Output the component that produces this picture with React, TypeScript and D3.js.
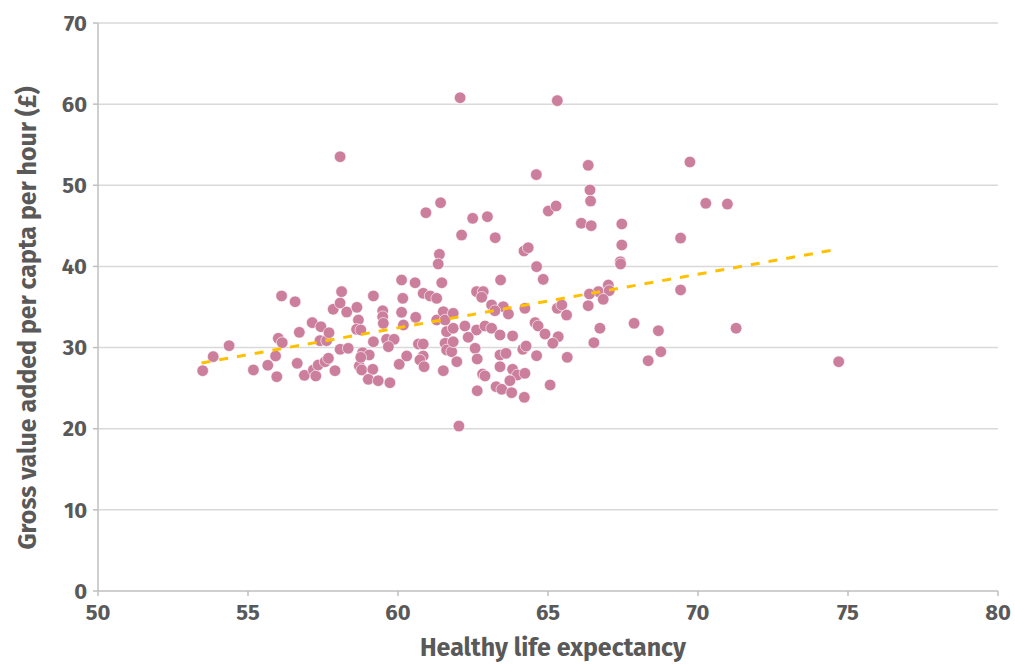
import React from "react";
import * as d3 from "d3";

const xVals = [
  53.49, 53.84, 54.37, 55.18, 55.66, 55.92, 55.96, 56.01, 56.14, 56.12, 56.57, 56.64, 56.71, 56.88, 57.14, 57.18, 57.26, 57.34, 57.4, 57.43, 57.57, 57.62, 57.68, 57.7, 57.84, 57.9,
  58.07, 58.12, 58.29, 58.07, 58.34, 58.63, 58.68, 58.62, 58.76, 58.71, 58.79, 58.82, 59.04, 58.76, 59.18, 59.18, 59.16, 59.01, 59.34, 59.49, 59.49, 59.51, 59.62, 59.87, 59.68, 59.73,
  60.12, 60.16, 60.12, 60.18, 60.04, 60.29, 60.57, 60.59, 60.68, 60.84, 60.84, 60.73, 60.87, 60.84, 61.07, 61.29, 61.46, 61.29, 61.51, 61.57, 61.84, 61.62, 61.84, 61.57, 61.62, 61.79, 61.96, 61.51,
  58.07, 60.93, 61.42, 61.38, 61.34, 62.07, 62.12, 62.49, 62.98, 63.24, 64.2, 64.34, 64.61, 65.01, 65.27, 65.31, 66.34, 66.4, 66.42, 66.11, 66.44, 67.46, 67.46, 67.41, 67.42,
  63.42, 64.62, 64.84, 62.62, 62.84, 62.79, 63.12, 63.51, 63.23, 63.68, 64.23, 62.23, 62.62, 62.9, 63.12, 62.34, 63.4, 63.82, 64.57, 64.67, 64.9, 65.34, 65.16, 65.31, 65.46, 65.62,
  61.84, 62.57, 62.64, 63.4, 63.6, 64.16, 64.27, 64.62, 65.64, 63.4, 63.82, 63.98, 64.23, 62.82, 62.9, 63.73, 65.07, 62.64, 63.27, 63.46, 63.79, 64.21, 62.03,
  69.42, 67.01, 66.68, 66.38, 67.04, 66.84, 66.34, 69.42, 67.87, 66.73, 68.68, 66.53, 68.76, 68.34, 69.73, 70.26, 70.98, 71.27, 74.69,
];

const yVals = [
  27.15, 28.88, 30.23, 27.24, 27.82, 28.96, 26.41, 31.14, 30.6, 36.36, 35.65, 28.06, 31.88, 26.58, 33.07, 27.24, 26.5, 27.85, 30.85, 32.57, 28.26, 30.85, 28.68, 31.83, 34.72, 27.15,
  35.49, 36.89, 34.38, 29.79, 29.91, 34.96, 33.4, 32.25, 32.17, 27.73, 27.24, 29.37, 29.09, 28.8, 36.36, 30.72, 27.32, 26.09, 25.92, 34.54, 33.8, 32.99, 31.02, 31.02, 30.11, 25.67,
  38.33, 36.07, 34.35, 32.78, 27.94, 28.96, 37.99, 33.73, 30.44, 30.44, 28.96, 28.47, 27.64, 36.69, 36.36, 36.07, 37.99, 33.4, 34.42, 33.4, 34.22, 31.96, 32.38, 30.53, 29.7, 29.49, 28.26, 27.15,
  53.52, 46.62, 47.85, 41.49, 40.3, 60.79, 43.87, 45.93, 46.13, 43.54, 41.9, 42.31, 51.31, 46.83, 47.45, 60.43, 52.46, 49.42, 48.06, 45.32, 45.02, 45.23, 42.64, 40.58, 40.3,
  38.33, 39.97, 38.41, 36.89, 36.89, 36.2, 35.25, 35.04, 34.54, 34.14, 34.84, 32.66, 32.17, 32.66, 32.38, 31.27, 31.55, 31.43, 33.07, 32.66, 31.67, 31.34, 30.53, 34.84, 35.25, 34.01,
  30.72, 29.91, 28.59, 29.09, 29.29, 29.79, 30.19, 29.0, 28.8, 27.64, 27.32, 26.62, 26.83, 26.74, 26.5, 25.92, 25.39, 24.68, 25.18, 24.86, 24.44, 23.87, 20.33,
  43.5, 37.71, 36.89, 36.6, 37.01, 35.95, 35.16, 37.1, 32.99, 32.38, 32.08, 30.6, 29.49, 28.38, 52.87, 47.78, 47.69, 32.38, 28.26,
];

const trendX = [53.45, 74.55];
const trendY = [28.1, 42.05];

const xTicks = [50, 55, 60, 65, 70, 75, 80];
const yTicks = [0, 10, 20, 30, 40, 50, 60, 70];

const xTitle = "Healthy life expectancy";
const yTitle = "Gross value added per capta per hour (£)";

const W = 1015;
const H = 664;
const M = { left: 98, right: 998, top: 23, bottom: 591 };
const FONT = "'Fira Sans', 'Noto Sans', 'Open Sans', sans-serif";
const TXT = "#595959";

export default function App() {
  const x = d3.scaleLinear().domain([50, 80]).range([M.left, M.right]);
  const y = d3.scaleLinear().domain([0, 70]).range([M.bottom, M.top]);
  const pts = xVals.map((v, i) => ({ x: v, y: yVals[i] }));
  const line = d3
    .line<number>()
    .x((_, i) => x(trendX[i]))
    .y((d) => y(d));

  return (
    <div style={{ position: "absolute", left: 0, top: 0 }}>
      <svg width={W} height={H} style={{ display: "block", background: "#fff" }}>
        {yTicks.map((t) => (
          <line
            key={"g" + t}
            x1={M.left}
            x2={M.right}
            y1={y(t)}
            y2={y(t)}
            stroke={t === 0 ? "#BFBFBF" : "#D9D9D9"}
            strokeWidth={1.5}
          />
        ))}
        <line x1={M.left} x2={M.left} y1={M.top} y2={M.bottom} stroke="#BFBFBF" strokeWidth={1.5} />
        {yTicks.map((t) => (
          <line key={"yt" + t} x1={M.left - 5} x2={M.left} y1={y(t)} y2={y(t)} stroke="#BFBFBF" strokeWidth={1.5} />
        ))}
        {xTicks.map((t) => (
          <line key={"xt" + t} x1={x(t)} x2={x(t)} y1={M.bottom} y2={M.bottom + 5} stroke="#BFBFBF" strokeWidth={1.5} />
        ))}
        {yTicks.map((t) => (
          <text
            key={"yl" + t}
            x={M.left - 11}
            y={y(t)}
            dy="0.35em"
            textAnchor="end"
            fontFamily={FONT}
            fontWeight={700}
            fontSize={22}
            fill={TXT}
          >
            {t}
          </text>
        ))}
        {xTicks.map((t) => (
          <text
            key={"xl" + t}
            x={x(t)}
            y={620}
            textAnchor="middle"
            fontFamily={FONT}
            fontWeight={700}
            fontSize={22}
            fill={TXT}
          >
            {t}
          </text>
        ))}
        {pts.map((p, i) => (
          <circle key={i} cx={x(p.x)} cy={y(p.y)} r={5.8} fill="#CB7F9D" stroke="#fff" strokeWidth={0.6} />
        ))}
        <path
          d={line(trendY) || ""}
          fill="none"
          stroke="#FFC000"
          strokeWidth={3}
          strokeDasharray="9,9"
        />
        <text
          x={553}
          y={656}
          textAnchor="middle"
          fontFamily={FONT}
          fontWeight={700}
          fontSize={25}
          fill={TXT}
        >
          {xTitle}
        </text>
        <text
          transform={`translate(36, 318) rotate(-90)`}
          textAnchor="middle"
          fontFamily={FONT}
          fontWeight={700}
          fontSize={25}
          fill={TXT}
        >
          {yTitle}
        </text>
      </svg>
    </div>
  );
}
